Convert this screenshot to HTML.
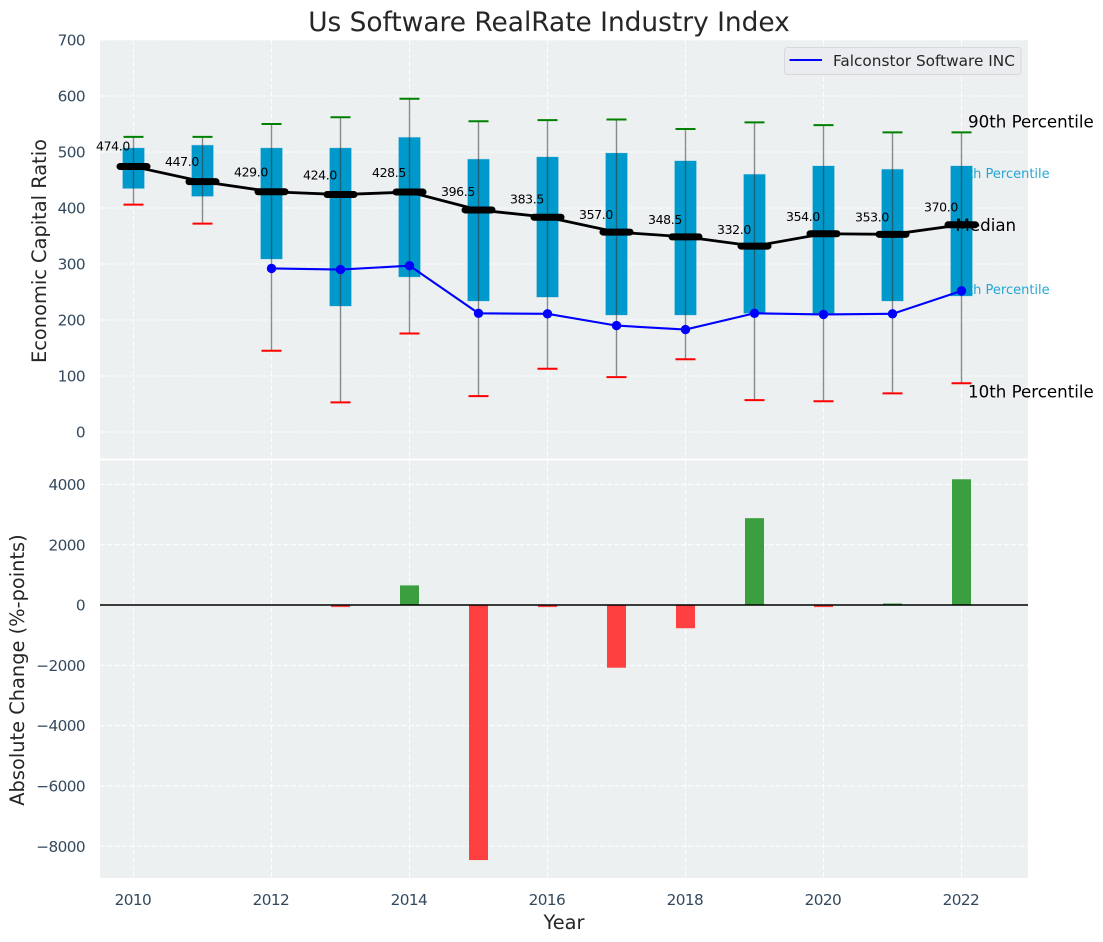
<!DOCTYPE html>
<html>
<head>
<meta charset="utf-8">
<title>Us Software RealRate Industry Index</title>
<style>
html,body{margin:0;padding:0;background:#fff;width:1103px;height:942px;overflow:hidden}
svg{display:block;font-family:"DejaVu Sans","Liberation Sans",sans-serif}
</style>
</head>
<body>
<svg id="chart" xmlns="http://www.w3.org/2000/svg" width="1103" height="942" viewBox="0 0 1103 942"></svg>
<script>
const years = [2010,2011,2012,2013,2014,2015,2016,2017,2018,2019,2020,2021,2022];
const p90 = [527,527,550,562,595,555,557,558,541,553,548,535,535];
const p75 = [507,512,507,507,526,487,491,498,484,460,475,469,475];
const median = [474,447,429,424,428.5,396.5,383.5,357,348.5,332,354,353,370];
const p25 = [435,421,309,225,277,234,241,209,209,212,212,234,243];
const p10 = [406,372,145,53,176,64,113,98,130,57,55,69,87];
const companyYears = [2012,2013,2014,2015,2016,2017,2018,2019,2020,2021,2022];
const companyValues = [292,290,297,212,211,190,183,212,210,211,252];
const changeYears = [2013,2014,2015,2016,2017,2018,2019,2020,2021,2022];
const changeValues = [-70,650,-8460,-70,-2080,-770,2880,-70,50,4170];
const xTicks = [2010,2012,2014,2016,2018,2020,2022];
const topTicks = [0,100,200,300,400,500,600,700];
const bottomTicks = [-8000,-6000,-4000,-2000,0,2000,4000];

const svg = document.getElementById('chart');
const NS = 'http://www.w3.org/2000/svg';
const X = v => 133.5 + (v - 2010) * 69;
const Y1 = v => 432 - v * 0.56;
const Y2 = v => 605 - v * 0.03015;

function mk(tag, props, parent) {
  const e = document.createElementNS(NS, tag);
  for (const k in props) e.setAttribute(k, props[k]);
  (parent || svg).appendChild(e);
  return e;
}
function txt(s, props, parent) {
  const e = mk('text', props, parent);
  e.textContent = s;
  return e;
}

const L = 100, R = 1028, T1 = 40, B1 = 458.5, T2 = 460.5, B2 = 878;

/* panels */
let el = mk('rect', {x:L, y:T1, width:R-L, height:B1-T1, fill:'#ecf0f1'});


el = mk('rect', {x:L, y:T2, width:R-L, height:B2-T2, fill:'#ecf0f1'});



/* grids */
const gridStyle = {stroke:'#ffffff', 'stroke-width':1.1, 'stroke-dasharray':'5 2.35', 'stroke-opacity':0.9, fill:'none'};
const tickStyle = {'font-size':15.3, 'letter-spacing':-0.6, fill:'#34495e'};
xTicks.forEach(t => {
  el = mk('line', Object.assign({x1:X(t), x2:X(t), y1:T1, y2:B1}, gridStyle));
  
  
  el = mk('line', Object.assign({x1:X(t), x2:X(t), y1:T2, y2:B2}, gridStyle));
  
  
  el = txt(t, Object.assign({x:X(t)-0.6, y:905, 'text-anchor':'middle'}, tickStyle));
  
  
});
topTicks.forEach(t => {
  el = mk('line', Object.assign({x1:L, x2:R, y1:Y1(t), y2:Y1(t)}, gridStyle));
  
  
  el = txt(t, Object.assign({x:85, y:Y1(t)+5.6, 'text-anchor':'end'}, tickStyle));
  
  
});
bottomTicks.forEach(t => {
  el = mk('line', Object.assign({x1:L, x2:R, y1:Y2(t), y2:Y2(t)}, gridStyle));
  
  
  el = txt(String(t).replace('-', '\u2212'), Object.assign({x:85, y:Y2(t)+5.6, 'text-anchor':'end'}, tickStyle));
  
  
});

/* end-of-series labels that sit behind the boxes */
const lastIdx = years.length - 1;
el = txt('75th Percentile', {x:X(2022)-10, y:Y1(p75[lastIdx])+12, 'font-size':13, fill:'#0099cc', 'fill-opacity':0.85});


el = txt('25th Percentile', {x:X(2022)-10, y:Y1(p25[lastIdx])-2, 'font-size':13, fill:'#0099cc', 'fill-opacity':0.85});



/* boxes, whiskers, caps */
years.forEach((yr, i) => {
  el = mk('rect', {x:X(yr)-10.75, y:Y1(p75[i]), width:21.5, height:Y1(p25[i])-Y1(p75[i]), fill:'#0099cc', stroke:'#0099cc', 'stroke-opacity':0.25, 'stroke-width':1});
  
  
  el = mk('line', {x1:X(yr), x2:X(yr), y1:Y1(p90[i]), y2:Y1(p10[i]), stroke:'#333333', 'stroke-opacity':0.55, 'stroke-width':1.4});
  
  
  el = mk('line', {x1:X(yr)-10, x2:X(yr)+10, y1:Y1(p90[i]), y2:Y1(p90[i]), stroke:'#008000', 'stroke-width':2});
  
  
  el = mk('line', {x1:X(yr)-10, x2:X(yr)+10, y1:Y1(p10[i]), y2:Y1(p10[i]), stroke:'#ff0000', 'stroke-width':2});
  
  
});

/* median line */
el = mk('polyline', {points:years.map((yr, i) => X(yr)+','+Y1(median[i])).join(' '), fill:'none', stroke:'#000000', 'stroke-width':2.8});


years.forEach((yr, i) => {
  el = mk('line', {x1:X(yr)-13.5, x2:X(yr)+13.5, y1:Y1(median[i]), y2:Y1(median[i]), stroke:'#000000', 'stroke-width':7, 'stroke-linecap':'round'});
  
  
  el = txt(median[i].toFixed(1), {x:X(yr)-20.5, y:Y1(median[i]*1.05)-3, 'text-anchor':'middle', 'font-size':12.5, 'letter-spacing':-0.35, fill:'#000000'});
  
  
});

/* company line */
el = mk('polyline', {points:companyYears.map((yr, i) => X(yr)+','+Y1(companyValues[i])).join(' '), fill:'none', stroke:'#0000ff', 'stroke-width':2.1});


companyYears.forEach((yr, i) => {
  el = mk('circle', {cx:X(yr), cy:Y1(companyValues[i]), r:4.7, fill:'#0000ff'});
  
  
});

/* bars */
changeYears.forEach((yr, i) => {
  const v = changeValues[i];
  const y0 = Y2(Math.max(v, 0)), y1 = Y2(Math.min(v, 0));
  el = mk('rect', {x:X(yr)-9.5, y:y0, width:19, height:y1-y0, fill:v >= 0 ? '#3b9e3f' : '#ff4040'});
  
  
});
el = mk('line', {x1:L, x2:R, y1:Y2(0), y2:Y2(0), stroke:'#000000', 'stroke-width':1.4});



/* annotations on top */
el = txt('90th Percentile', {x:X(2022)+6.5, y:Y1(p90[lastIdx])-5, 'font-size':16.67, fill:'#000000'});


el = txt('Median', {x:X(2022)-6, y:Y1(median[lastIdx])+6, 'font-size':16.67, fill:'#000000'});


el = txt('10th Percentile', {x:X(2022)+6.5, y:Y1(p10[lastIdx])+14, 'font-size':16.67, fill:'#000000'});



/* legend */
el = mk('rect', {x:784.5, y:47.5, width:236.5, height:27, rx:3, fill:'#eaecf0', stroke:'#d5d8dc', 'stroke-width':1});


el = mk('line', {x1:789.5, x2:822, y1:60, y2:60, stroke:'#0000ff', 'stroke-width':2.1});


el = txt('Falconstor Software INC', {x:833, y:66, 'font-size':15.3, fill:'#262626'});



/* titles */
el = txt('Us Software RealRate Industry Index', {x:549, y:31, 'text-anchor':'middle', 'font-size':26.4, fill:'#262626'});


el = txt('Year', {x:564, y:929, 'text-anchor':'middle', 'font-size':19.4, fill:'#262626'});


el = txt('Economic Capital Ratio', {x:0, y:0, 'text-anchor':'middle', 'font-size':19.4, fill:'#262626', transform:'translate(46,251) rotate(-90)'});


el = txt('Absolute Change (%-points)', {x:0, y:0, 'text-anchor':'middle', 'font-size':19.4, fill:'#262626', transform:'translate(24,670) rotate(-90)'});


</script>
</body>
</html>
